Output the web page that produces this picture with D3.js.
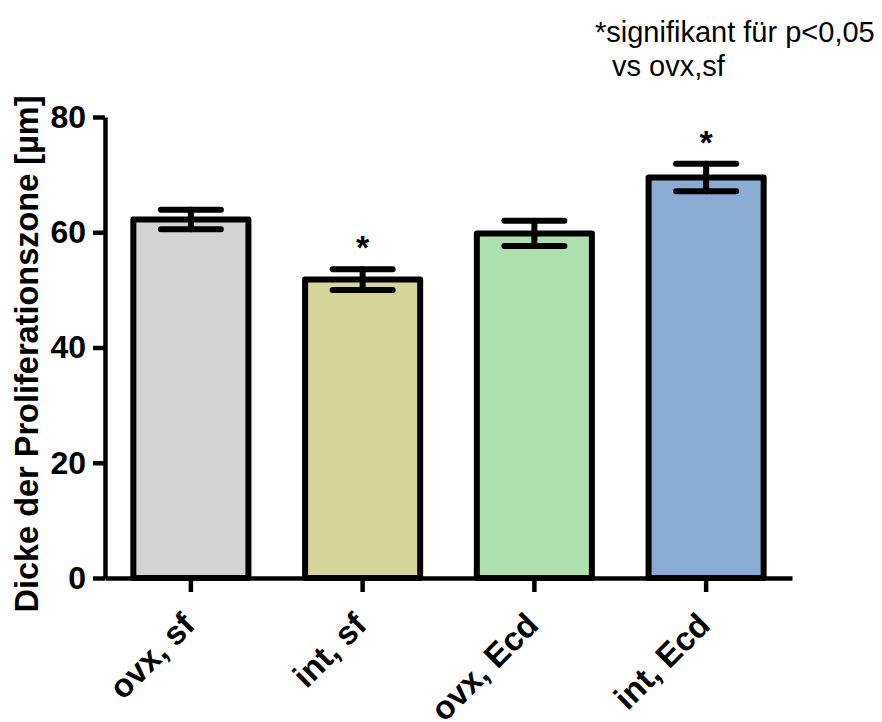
<!DOCTYPE html>
<html>
<head>
<meta charset="utf-8">
<script src="https://cdn.jsdelivr.net/npm/d3@7"></script>
<style>
  html, body { margin: 0; padding: 0; background: #fff; }
  svg { display: block; font-family: Arial, "Liberation Sans", sans-serif; }
</style>
</head>
<body>
<svg id="chart" width="882" height="722"></svg>
<script>
// Group means and SEM of the proliferation zone thickness
const groups = ["ovx, sf", "int, sf", "ovx, Ecd", "int, Ecd"];
const means = [62.2, 51.8, 59.8, 69.5];
const errors = [1.7, 1.8, 2.2, 2.4];
const significant = [false, true, false, true];
const fills = ["#d3d3d3", "#d5d59a", "#aedfae", "#8aabd3"];
const yTicks = [0, 20, 40, 60, 80];

const svg = d3.select("#chart");

const x = d3.scaleBand()
  .domain(groups)
  .range([105, 792])
  .paddingInner(0.33)
  .paddingOuter(0.165);

const y = d3.scaleLinear()
  .domain([0, 80])
  .range([578, 117]);

// Bars
svg.append("g")
  .selectAll("rect")
  .data(groups)
  .join("rect")
  .attr("x", d => x(d))
  .attr("width", x.bandwidth())
  .attr("y", (d, i) => y(means[i]))
  .attr("height", (d, i) => y(0) - y(means[i]))
  .attr("fill", (d, i) => fills[i])
  .attr("stroke", "#000")
  .attr("stroke-width", 6)
  .attr("stroke-linejoin", "round");

// Error bars (mean ± SEM)
const capW = 60;
const eb = svg.append("g")
  .attr("stroke", "#000")
  .attr("stroke-width", 6)
  .attr("stroke-linecap", "round");

groups.forEach((g, i) => {
  const cx = x(g) + x.bandwidth() / 2;
  const hi = y(means[i] + errors[i]);
  const lo = y(means[i] - errors[i]);
  eb.append("line").attr("x1", cx).attr("x2", cx).attr("y1", hi).attr("y2", lo);
  eb.append("line").attr("x1", cx - capW / 2).attr("x2", cx + capW / 2).attr("y1", hi).attr("y2", hi);
  eb.append("line").attr("x1", cx - capW / 2).attr("x2", cx + capW / 2).attr("y1", lo).attr("y2", lo);
});

// Significance markers
svg.append("g")
  .selectAll("text")
  .data(groups.filter((g, i) => significant[i]))
  .join("text")
  .attr("x", d => x(d) + x.bandwidth() / 2)
  .attr("y", d => y(means[groups.indexOf(d)] + errors[groups.indexOf(d)]) - 10)
  .attr("text-anchor", "middle")
  .attr("font-size", 34)
  .attr("font-weight", "bold")
  .attr("fill", "#000")
  .text("*");

// Y axis
const yAxis = svg.append("g")
  .attr("transform", "translate(105,0)")
  .call(d3.axisLeft(y).tickValues(yTicks).tickSize(12).tickPadding(7).tickSizeOuter(0));
yAxis.select(".domain").attr("stroke", "#000").attr("stroke-width", 4.5);
yAxis.selectAll(".tick line").attr("stroke", "#000").attr("stroke-width", 4.5);
yAxis.selectAll(".tick text")
  .attr("font-size", 32)
  .attr("font-weight", "bold")
  .attr("fill", "#000")
  .attr("font-family", "Arial, 'Liberation Sans', sans-serif");

// X axis
const xAxis = svg.append("g")
  .attr("transform", "translate(0,578)")
  .call(d3.axisBottom(x).tickSize(14).tickSizeOuter(0));
xAxis.select(".domain").attr("stroke", "#000").attr("stroke-width", 4.5);
xAxis.selectAll(".tick line").attr("stroke", "#000").attr("stroke-width", 4.5);
xAxis.selectAll(".tick text")
  .attr("font-size", 33)
  .attr("font-weight", "bold")
  .attr("fill", "#000")
  .attr("font-family", "Arial, 'Liberation Sans', sans-serif")
  .attr("text-anchor", "end")
  .attr("dy", null)
  .attr("y", 0)
  .attr("transform", "translate(6,49) rotate(-45)");

// Y axis title
svg.append("text")
  .attr("transform", "translate(38,354) rotate(-90)")
  .attr("text-anchor", "middle")
  .attr("font-size", 32.5)
  .attr("font-weight", "bold")
  .attr("fill", "#000")
  .text("Dicke der Proliferationszone [µm]");

// Significance note
const note = svg.append("text")
  .attr("font-size", 29)
  .attr("fill", "#000");
note.append("tspan").attr("x", 595).attr("y", 42).text("*signifikant für p<0,05");
note.append("tspan").attr("x", 612).attr("y", 76).text("vs ovx,sf");
</script>
</body>
</html>
